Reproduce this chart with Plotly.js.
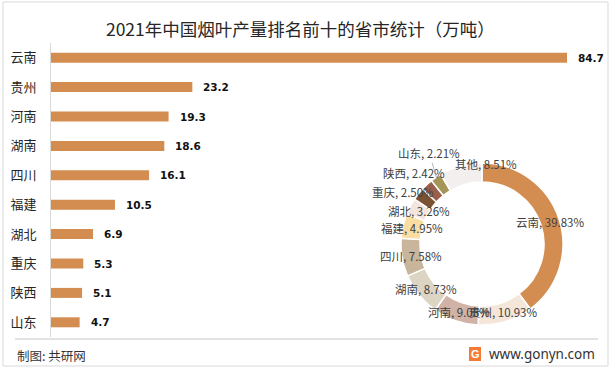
<!DOCTYPE html>
<html>
<head>
<meta charset="utf-8">
<script src="https://cdn.plot.ly/plotly-3.0.1.min.js"></script>
<style>
  html, body { margin: 0; padding: 0; background: #fff; }
  #chart { width: 613px; height: 370px; }
</style>
</head>
<body>
<div id="chart"></div>
<script>
// ---- data ----
const categories = ['云南', '贵州', '河南', '湖南', '四川', '福建', '湖北', '重庆', '陕西', '山东'];
const output = [84.7, 23.2, 19.3, 18.6, 16.1, 10.5, 6.9, 5.3, 5.1, 4.7];
const pieLabels = ['云南', '贵州', '河南', '湖南', '四川', '福建', '湖北', '重庆', '陕西', '山东', '其他'];
const pieShares = [39.83, 10.93, 9.08, 8.73, 7.58, 4.95, 3.26, 2.50, 2.42, 2.21, 8.51];
const pieColors = ['#D48D50', '#F5E6DA', '#D0B2A6', '#DCD5C4', '#C8B59B', '#FADDA3',
                   '#F3E5DE', '#7A5233', '#9B5E4B', '#A59658', '#F3EFEE'];
const titleText = '2021年中国烟叶产量排名前十的省市统计（万吨）';

// ---- geometry helpers (pixels -> paper) ----
const W = 613, H = 370;
const px = v => v / W;
const py = v => 1 - v / H;

const barColor = '#D48D50';
const cjk = '"Noto Sans CJK SC", "Microsoft YaHei", sans-serif';

// pie placement
const cx = 482, cy = 244, R = 81, rIn = 62;
const rMid = (R + rIn) / 2;
// label nudges (pixels) for crowded small slices
const nudges = [[0,0],[0,0],[0,0],[0,0],[0,0],[0,0],[0,0],[-23,-8],[-19,-19],[-12,-32],[23,-11]];
const leader = [false,false,false,false,false,false,false,false,false,true,false];

const annotations = [];

// bar value labels
categories.forEach((c, i) => {
  annotations.push({
    x: output[i], y: c, xref: 'x', yref: 'y',
    text: output[i].toFixed(1), showarrow: false,
    xanchor: 'left', yanchor: 'middle', xshift: 9,
    font: { family: '"DejaVu Sans", Verdana, sans-serif', size: 10.5, color: '#111', weight: 'bold' }
  });
});

// pie labels
const total = pieShares.reduce((a, b) => a + b, 0);
let cum = 0;
pieShares.forEach((s, i) => {
  const mid = (cum + s / 2) / total * 2 * Math.PI;
  cum += s;
  const lx = cx + rMid * Math.sin(mid) + nudges[i][0];
  const ly = cy - rMid * Math.cos(mid) + nudges[i][1];
  const txt = pieLabels[i] + ', ' + s.toFixed(2) + '%';
  const font = { family: cjk, size: 11.5, color: '#404040' };
  if (leader[i]) {
    const ex = cx + (R - 1) * Math.sin(mid);
    const ey = cy - (R - 1) * Math.cos(mid);
    annotations.push({
      x: px(ex), y: py(ey), xref: 'paper', yref: 'paper',
      text: txt, showarrow: true, arrowhead: 0, arrowwidth: 0.8, arrowcolor: '#A6A6A6',
      ax: lx - ex, ay: ly - ey, font
    });
  } else {
    annotations.push({
      x: px(lx), y: py(ly), xref: 'paper', yref: 'paper',
      text: txt, showarrow: false, xanchor: 'center', yanchor: 'middle', font
    });
  }
});

// footer
annotations.push({
  x: px(15), y: py(355), xref: 'paper', yref: 'paper', xanchor: 'left', yanchor: 'middle',
  text: '制图: 共研网', showarrow: false, font: { family: cjk, size: 12.5, color: '#333' }
});
annotations.push({
  x: px(597), y: py(354), xref: 'paper', yref: 'paper', xanchor: 'right', yanchor: 'middle',
  text: 'www.gonyn.com', showarrow: false, font: { family: '"Noto Sans", Arial, sans-serif', size: 13.5, color: '#333' }
});
annotations.push({
  x: px(475), y: py(354), xref: 'paper', yref: 'paper', xanchor: 'center', yanchor: 'middle',
  text: 'G', showarrow: false, font: { family: 'Arial, sans-serif', size: 11, color: '#fff', weight: 'bold' }
});

const shapes = [
  { type: 'rect', xref: 'paper', yref: 'paper', x0: px(3), x1: px(608), y0: py(366), y1: py(2),
    line: { color: '#D9D9D9', width: 1 }, fillcolor: 'rgba(0,0,0,0)' },
  { type: 'line', xref: 'paper', yref: 'paper', x0: px(15), x1: px(598), y0: py(339), y1: py(339),
    line: { color: '#E3E3E3', width: 2 } },
  { type: 'rect', xref: 'paper', yref: 'paper', x0: px(469), x1: px(481), y0: py(361), y1: py(347),
    line: { width: 0 }, fillcolor: '#F47B35', layer: 'below' }
];

const traces = [
  {
    type: 'bar', orientation: 'h', y: categories, x: output,
    marker: { color: barColor }, hoverinfo: 'none', xaxis: 'x', yaxis: 'y'
  },
  {
    type: 'pie', labels: pieLabels, values: pieShares, sort: false, direction: 'clockwise',
    rotation: 0, hole: rIn / R, textinfo: 'none', hoverinfo: 'none', showlegend: false,
    marker: { colors: pieColors, line: { color: '#FFFFFF', width: 1.5 } },
    domain: { x: [px(cx - R), px(cx + R)], y: [py(cy + R), py(cy - R)] }
  }
];

const layout = {
  width: W, height: H,
  margin: { l: 0, r: 0, t: 0, b: 0 },
  paper_bgcolor: '#FFFFFF', plot_bgcolor: 'rgba(0,0,0,0)',
  showlegend: false,
  bargap: 0.66,
  title: { text: titleText, x: 0.49, xanchor: 'center', y: py(30), yanchor: 'middle',
           font: { family: cjk, size: 17.5, color: '#262626' } },
  xaxis: { domain: [px(51), px(600)], range: [0, 84.7 * 549 / 516], visible: false, fixedrange: true },
  yaxis: { domain: [py(337), py(43)], type: 'category', range: [9.5, -0.5],
           showline: true, linecolor: '#D9D9D9', linewidth: 1, showgrid: false, zeroline: false,
           ticks: 'outside', ticklen: 11, tickcolor: 'rgba(0,0,0,0)',
           tickfont: { family: cjk, size: 13, color: '#262626' }, fixedrange: true },
  annotations, shapes
};

Plotly.newPlot('chart', traces, layout, { staticPlot: true, displayModeBar: false });
</script>
</body>
</html>
